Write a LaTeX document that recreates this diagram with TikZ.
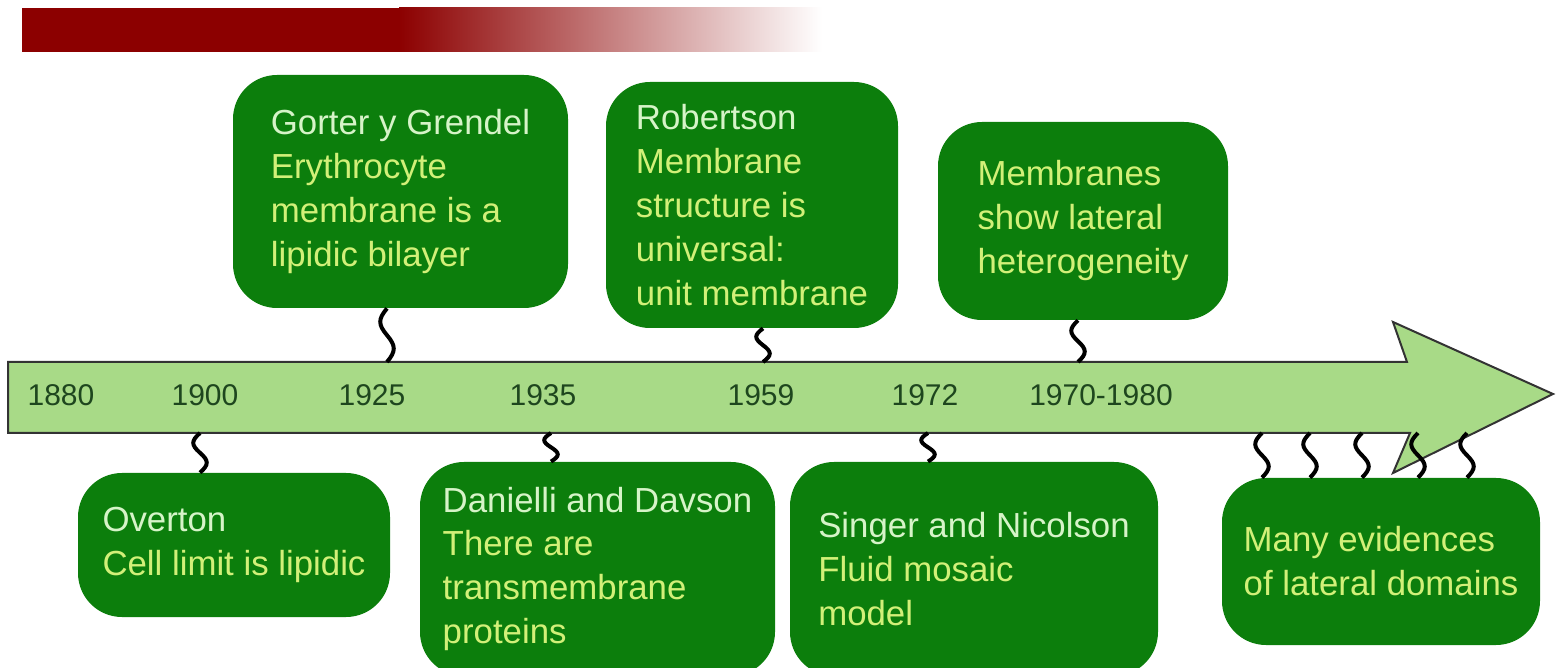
\documentclass[tikz,border=0pt]{standalone}
\usepackage{fontspec}
\setmainfont{Liberation Sans}
\usetikzlibrary{calc}

\definecolor{barred}{RGB}{140,0,0}
\definecolor{axisgreen}{RGB}{168,218,135}
\definecolor{boxgreen}{RGB}{12,126,12}
\definecolor{titlegreen}{RGB}{214,244,200}
\definecolor{textgreen}{RGB}{210,240,120}
\definecolor{yeargreen}{RGB}{30,70,30}

\tikzset{
  event/.style={fill=boxgreen, rounded corners=22pt, inner sep=0pt, align=left,
    text=textgreen, font=\fontsize{17.4}{22}\selectfont},
  year/.style={text=yeargreen, font=\fontsize{15}{18}\selectfont},
  squig/.style={line width=2pt, to path={
    .. controls ($(\tikztostart)!0.2!(\tikztotarget)+(-9,0)$) and ($(\tikztostart)!0.3!(\tikztotarget)+(-9,0)$)
    .. ($(\tikztostart)!0.5!(\tikztotarget)$)
    .. controls ($(\tikztostart)!0.7!(\tikztotarget)+(9,0)$) and ($(\tikztostart)!0.8!(\tikztotarget)+(9,0)$)
    .. (\tikztotarget)}}
}

\begin{document}
\begin{tikzpicture}[x=0.5pt,y=-0.5pt]
\useasboundingbox (0,0) rectangle (1560,668);
\clip (0,0) rectangle (1560,668);

% title bar
\fill[barred] (22,8) rectangle (400,52);
\shade[left color=barred, right color=white] (399,8) rectangle (822,52);

% time arrow
\draw[fill=axisgreen, draw=black!80, line width=1pt] (8,362) -- (1407,362) -- (1393,322)
  -- (1553,394) -- (1393,473) -- (1410,433) -- (8,433) -- cycle;

\node[year] (y1880) at (61,395) {1880};
\node[year] (y1900) at (205,395) {1900};
\node[year] (y1925) at (372,395) {1925};
\node[year] (y1935) at (543,395) {1935};
\node[year] (y1959) at (761,395) {1959};
\node[year] (y1972) at (925,395) {1972};
\node[year] (y1970) at (1101,395) {1970-1980};

% events above
\node[event, minimum width=167.5pt, minimum height=116.5pt] (gorter) at (400.5,191.5)
  {\textcolor{titlegreen}{Gorter y Grendel}\\ Erythrocyte\\ membrane is a\\ lipidic bilayer};
\node[event, minimum width=146pt, minimum height=123pt] (robertson) at (752,205)
  {\textcolor{titlegreen}{Robertson}\\ Membrane\\ structure is\\ universal:\\ unit membrane};
\node[event, minimum width=145pt, minimum height=99pt] (hetero) at (1083,221)
  {Membranes\\ show lateral\\ heterogeneity};

% events below
\node[event, minimum width=156pt, minimum height=72pt] (overton) at (234,545)
  {\textcolor{titlegreen}{Overton}\\ Cell limit is lipidic};
\node[event, minimum width=177.5pt, minimum height=107pt] (danielli) at (597.5,569)
  {\textcolor{titlegreen}{Danielli and Davson}\\ There are\\ transmembrane\\ proteins};
\node[event, minimum width=184pt, minimum height=107pt] (singer) at (974,569)
  {\textcolor{titlegreen}{Singer and Nicolson}\\ Fluid mosaic\\ model};
\node[event, minimum width=159pt, minimum height=83.5pt] (domains) at (1381,561.5)
  {Many evidences\\ of lateral domains};

% connectors
\coordinate (a1925) at (387,362);
\coordinate (a1959) at (763,362);
\coordinate (a1970) at (1078,362);
\coordinate (b1900) at (200,433);
\coordinate (b1935) at (551,433);
\coordinate (b1972) at (928,433);

\draw[squig] (a1925 |- gorter.south) to (a1925);
\draw[squig] (a1959 |- robertson.south) to (a1959);
\draw[squig] (a1970 |- hetero.south) to (a1970);
\draw[squig] (b1900) to (b1900 |- overton.north);
\draw[squig] (b1935) to (b1935 |- danielli.north);
\draw[squig] (b1972) to (b1972 |- singer.north);

\foreach \x in {1262,1310,1362,1418,1467} {
  \coordinate (d\x) at (\x,433);
  \draw[squig] (d\x) to (d\x |- domains.north);
}

\end{tikzpicture}
\end{document}
